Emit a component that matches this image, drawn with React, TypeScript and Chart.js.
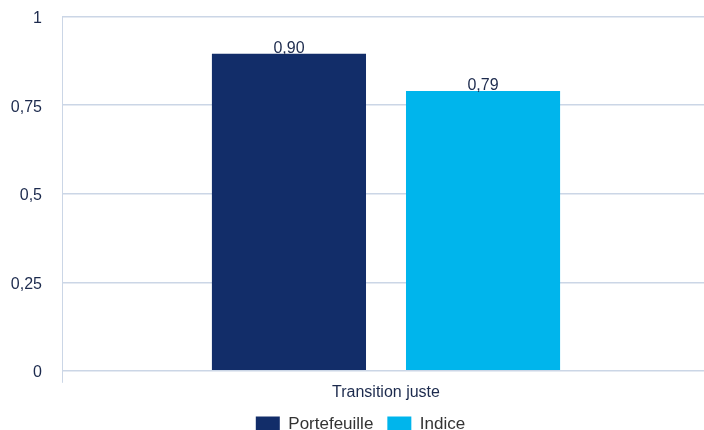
import React, { useEffect, useRef } from "react";
import { Chart, registerables } from "chart.js";

Chart.register(...registerables);

const categories = ["Transition juste"];
const seriesNames = ["Portefeuille", "Indice"];
const portefeuille = [0.895];
const indice = [0.79];
const yTicks = [0, 0.25, 0.5, 0.75, 1];

const NAVY = "#122d69";
const CYAN = "#00b5ec";
const GRID = "#cbd6e6";
const TEXT = "#1c2a4d";
const FONT = "'Liberation Sans', Arial, sans-serif";

const fmt = (v: number) => String(v).replace(".", ",");
const fmt2 = (v: number) => (Math.round(v * 100) / 100).toFixed(2).replace(".", ",");

const valueLabels = {
  id: "valueLabels",
  afterDatasetsDraw(chart: any) {
    const ctx = chart.ctx;
    ctx.save();
    ctx.font = `16px ${FONT}`;
    ctx.fillStyle = TEXT;
    ctx.textAlign = "center";
    ctx.textBaseline = "bottom";
    chart.data.datasets.forEach((ds: any, i: number) => {
      const meta = chart.getDatasetMeta(i);
      meta.data.forEach((bar: any, j: number) => {
        ctx.fillText(fmt2(ds.data[j]), bar.x, bar.y + 3);
      });
    });
    ctx.restore();
  },
};

export default function App() {
  const ref = useRef<HTMLCanvasElement>(null);
  useEffect(() => {
    if (!ref.current) return;
    const chart = new Chart(ref.current, {
      type: "bar",
      data: {
        labels: categories,
        datasets: [
          { label: seriesNames[0], data: portefeuille, backgroundColor: NAVY },
          { label: seriesNames[1], data: indice, backgroundColor: CYAN },
        ],
      },
      options: {
        responsive: false,
        animation: false,
        layout: { padding: { top: 0, right: 0, left: 11, bottom: 0 } },
        datasets: { bar: { categoryPercentage: 0.599, barPercentage: 0.794 } },
        scales: {
          x: {
            grid: {
              offset: true,
              drawOnChartArea: false,
              drawTicks: true,
              tickLength: 12,
              color: GRID,
            },
            border: { color: GRID },
            ticks: {
              color: TEXT,
              font: { family: FONT, size: 16 },
              padding: 0,
            },
          },
          y: {
            min: 0,
            max: 1,
            afterBuildTicks: (axis: any) => {
              axis.ticks = yTicks.map((v) => ({ value: v }));
            },
            afterFit: (axis: any) => {
              axis.width = 51;
            },
            grid: { color: GRID, drawTicks: false, lineWidth: 1.5 },
            border: { color: GRID },
            ticks: {
              color: TEXT,
              padding: 20,
              labelOffset: 2,
              font: { family: FONT, size: 16 },
              callback: (v: any) => fmt(Number(v)),
            },
          },
        },
        plugins: {
          legend: {
            position: "bottom",
            labels: {
              boxWidth: 24,
              boxHeight: 16,
              padding: 14,
              color: "#333333",
              font: { family: FONT, size: 17 },
            },
          },
          tooltip: { enabled: false },
        },
      },
      plugins: [valueLabels],
    });
    return () => chart.destroy();
  }, []);
  return (
    <div style={{ position: "absolute", left: 0, top: 0, width: 704, height: 430, overflow: "hidden" }}>
      <canvas
        ref={ref}
        width={710}
        height={456}
        style={{ display: "block", position: "absolute", left: 0, top: -13 }}
      />
    </div>
  );
}
